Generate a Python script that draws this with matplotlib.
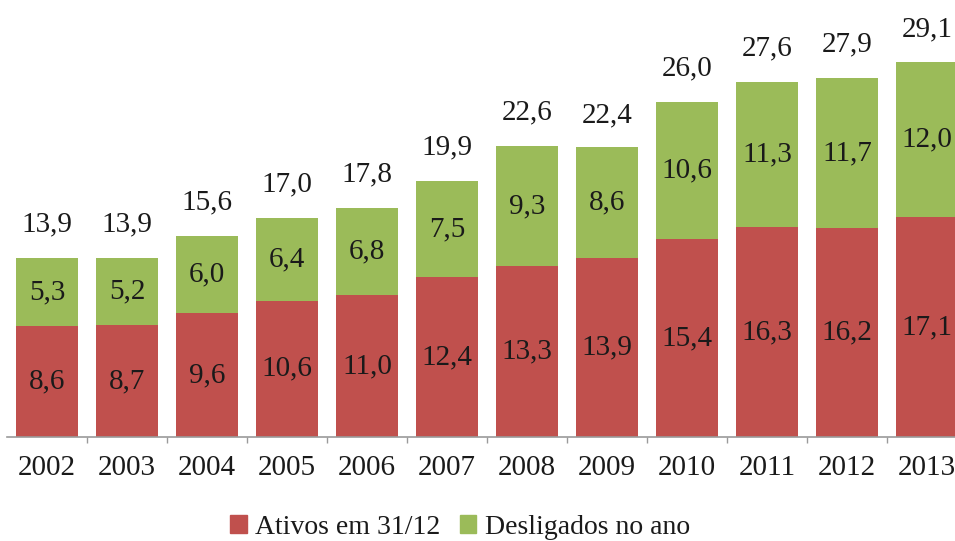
import matplotlib.pyplot as plt
import numpy as np
from matplotlib.patches import Patch

plt.rcParams['font.family'] = ['Liberation Serif', 'DejaVu Serif']

years = ['2002', '2003', '2004', '2005', '2006', '2007',
         '2008', '2009', '2010', '2011', '2012', '2013']
ativos = [8.6, 8.7, 9.6, 10.6, 11.0, 12.4, 13.3, 13.9, 15.4, 16.3, 16.2, 17.1]
desligados = [5.3, 5.2, 6.0, 6.4, 6.8, 7.5, 9.3, 8.6, 10.6, 11.3, 11.7, 12.0]
totais = [13.9, 13.9, 15.6, 17.0, 17.8, 19.9, 22.6, 22.4, 26.0, 27.6, 27.9, 29.1]

red = '#C0504D'
green = '#9BBB59'
txt = '#1a1a1a'

def fmt(v):
    return f'{v:.1f}'.replace('.', ',')

fig = plt.figure(figsize=(9.55, 5.41), dpi=100)
# axes slightly wider than the figure, the original image is cropped on the right
ax = fig.add_axes([7 / 955, 1 - 437 / 541, 960 / 955, 437 / 541])

x = np.arange(len(years))
w = 0.775
ax.bar(x, ativos, w, color=red, label='Ativos em 31/12')
ax.bar(x, desligados, w, bottom=ativos, color=green, label='Desligados no ano')

fs = 21
for i in range(len(years)):
    ax.text(x[i], ativos[i] / 2, fmt(ativos[i]), ha='center', va='center',
            fontsize=fs, color=txt)
    ax.text(x[i], ativos[i] + desligados[i] / 2, fmt(desligados[i]),
            ha='center', va='center', fontsize=fs, color=txt)
    ax.text(x[i], totais[i] + 2.6, fmt(totais[i]), ha='center', va='center',
            fontsize=fs, color=txt)

ax.set_xlim(-0.5, len(years) - 0.5)
ax.set_ylim(0, 33.95)

for s in ['top', 'right', 'left']:
    ax.spines[s].set_visible(False)
ax.spines['bottom'].set_color('#9a9a9a')
ax.spines['bottom'].set_linewidth(1.2)
ax.set_yticks([])

ax.set_xticks(x)
ax.set_xticklabels(years, fontsize=fs, color=txt)
ax.tick_params(axis='x', which='major', length=0, pad=13)
ax.set_xticks(np.arange(1, len(years) + 1) - 0.5, minor=True)
ax.tick_params(axis='x', which='minor', length=4, width=1, color='#9a9a9a')

handles = [Patch(color=red), Patch(color=green)]
fig.legend(handles, ['Ativos em 31/12', 'Desligados no ano'], loc='center',
           bbox_to_anchor=(460 / 955, 1 - 527 / 541), ncol=2, frameon=False,
           fontsize=20, handlelength=0.6, handleheight=0.6, handletextpad=0.3,
           columnspacing=0.7, labelcolor=txt)

fig.savefig('out.png', dpi=100)
